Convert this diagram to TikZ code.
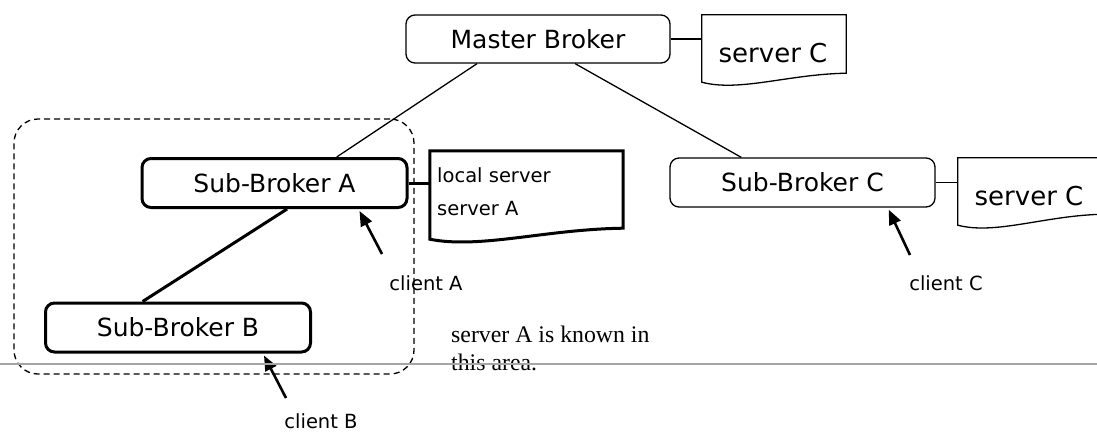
\documentclass[tikz,border=0pt]{standalone}
\usepackage{fontspec}
\newfontfamily\labelfont{DejaVu Sans}
\newfontfamily\notefont{Liberation Serif}
\usetikzlibrary{calc,arrows.meta}

% outline of a "document" symbol around a node: straight top and sides,
% wavy bottom edge whose right end sits #3 higher than its left end
\newcommand\docoutline[3][]{%
  \draw[#1] (#2.south west) -- (#2.north west) -- (#2.north east)
    -- ($(#2.south east)+(0,-#3)$)
    .. controls ($(#2.south west)!0.6!(#2.south east)+(0,-#3+1)$)
       and ($(#2.south west)!0.26!(#2.south east)+(0,10)$) .. (#2.south west) -- cycle;}

\tikzset{
  big/.style={font=\labelfont\fontsize{25}{30}\selectfont},
  small/.style={font=\labelfont\fontsize{19.5}{33}\selectfont},
  broker/.style={big, draw, rounded corners=9pt, line width=1.3pt,
    minimum width=265pt, minimum height=49pt, inner sep=0pt},
  brokerbold/.style={broker, line width=3pt},
  docbox/.style={draw=none, inner sep=0pt},
  thinlink/.style={line width=1.3pt},
  boldlink/.style={line width=3pt},
  thindoc/.style={line width=1.3pt, line join=miter},
  bolddoc/.style={line width=3pt, line join=miter},
  region/.style={draw, dashed, dash pattern=on 6pt off 4pt, line width=1.3pt,
    rounded corners=24pt, inner sep=0pt},
  clientarrow/.style={line width=2.6pt, -{Triangle[length=15pt,width=12pt]}},
  textlabel/.style={inner sep=0pt},
}

\begin{document}
\begin{tikzpicture}[x=1pt, y=-1pt]
\useasboundingbox (0,0) rectangle (1097,432);

% area in which server A is known
\node[region, minimum width=400pt, minimum height=255pt] (area) at (214,246.5) {};

% brokers
\node[broker, minimum width=264pt, minimum height=48pt] (master) at (538,39) {Master Broker};
\node[brokerbold] (subA) at (274.5,183) {Sub-Broker A};
\node[brokerbold] (subB) at (178,327.5) {Sub-Broker B};
\node[broker] (subC) at (802.5,182.5) {Sub-Broker C};

% server documents
\node[docbox, minimum width=144pt, minimum height=67pt] (docM) at (774,48.5) {};
\docoutline[thindoc]{docM}{9}
\node[big, textlabel, font=\labelfont\fontsize{26}{30}\selectfont] (docMtext) at (773,53) {server C};

\node[docbox, minimum width=193pt, minimum height=88pt] (docA) at (526.5,195) {};
\docoutline[bolddoc]{docA}{11}
\node[small, textlabel, anchor=west, align=left] (docAtext) at (437,192) {local server\\server A};

\node[docbox, minimum width=146pt, minimum height=67pt] (docC) at (1031,191.5) {};
\begin{scope}
  \clip (0,0) rectangle (1097,432);
  \docoutline[thindoc]{docC}{11}
\end{scope}
\node[textlabel, font=\labelfont\fontsize{26}{30}\selectfont] (docCtext) at (1029,196) {server C};

% links between brokers
\draw[thinlink] ($(master.south west)!0.27!(master.south east)$) -- ($(subA.north west)!0.732!(subA.north east)$);
\draw[thinlink] ($(master.south west)!0.64!(master.south east)$) -- ($(subC.north west)!0.27!(subC.north east)$);
\draw[boldlink] ($(subA.south west)!0.547!(subA.south east)$) -- ($(subB.north west)!0.368!(subB.north east)$);

% links from brokers to their servers
\draw[thinlink] (master.east) -- (master.east -| docM.west);
\draw[boldlink] (subA.east) -- (subA.east -| docA.west);
\draw[thinlink] (subC.east) -- (subC.east -| docC.west);

% clients
\node[small, textlabel] (clientA) at (426,283) {client A};
\node[small, textlabel] (clientB) at (321,421) {client B};
\node[small, textlabel] (clientC) at (946,283) {client C};
\coordinate (tailA) at (382,254);
\coordinate (tailB) at (286,398);
\coordinate (tailC) at (910,255);
\draw[clientarrow] (tailA) -- ($(subA.south east)+(-49,2)$);
\draw[clientarrow] (tailB) -- ($(subB.south east)+(-48,2)$);
\draw[clientarrow] (tailC) -- ($(subC.south east)+(-47,2)$);

% note
\node[textlabel, anchor=west, align=left, font=\notefont\fontsize{23.8}{28}\selectfont]
  (note) at (451,348) {server A is known in\\this area.};

% horizontal rule
\draw[line width=1.5pt, color={rgb,255:red,165;green,165;blue,165}] (0,364) -- (1097,364);
\end{tikzpicture}
\end{document}
